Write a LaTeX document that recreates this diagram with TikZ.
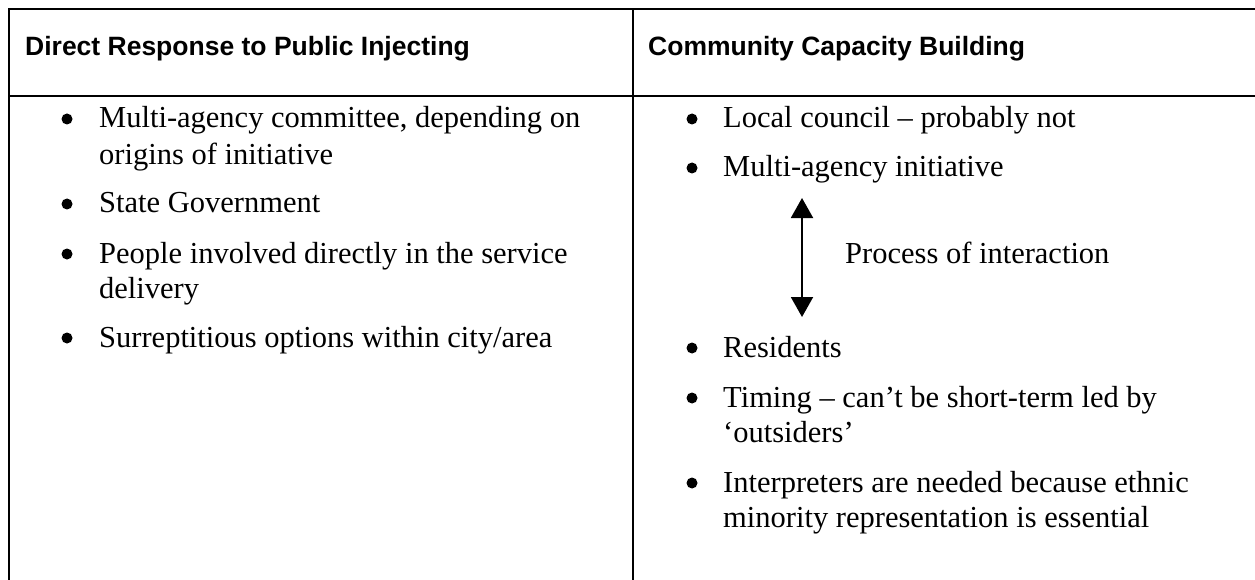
\documentclass[tikz,border=0pt]{standalone}
\usepackage{fontspec}
\setmainfont{Liberation Serif}
\newfontfamily\hdrfont{Liberation Sans}
\usetikzlibrary{arrows.meta}
\tikzset{
  rule/.style={line width=2pt, black},
  hdr/.style={anchor=base west, inner sep=0pt, font=\hdrfont\bfseries\fontsize{26.5}{30}\selectfont},
  body/.style={anchor=base west, inner sep=0pt, font=\fontsize{30.5}{35.5}\selectfont},
  bul/.style={circle, fill=black, inner sep=0pt, minimum size=11pt},
  dblarrow/.style={line width=2pt, {Triangle[width=22pt,length=20pt]}-{Triangle[width=22pt,length=20pt]}}
}
\begin{document}
\begin{tikzpicture}[x=1pt,y=-1pt]
\path[use as bounding box, fill=white] (0,0) rectangle (1255,580);
% table rules
\draw[rule] (9,580) -- (9,9) -- (1256,9);
\draw[rule] (9,96) -- (1256,96);
\draw[rule] (633,9) -- (633,580);
% headers
\node[hdr] (h1) at (25,56) {Direct Response to Public Injecting};
\node[hdr] (h2) at (648,56) {Community Capacity Building};
% left column
\node[bul] (lb1) at (67,119) {};
\node[body] (l1a) at (99,128) {Multi-agency committee, depending on};
\node[body] (l1b) at (99,165) {origins of initiative};
\node[bul] (lb2) at (67,204) {};
\node[body] (l2) at (99,213) {State Government};
\node[bul] (lb3) at (67,254) {};
\node[body] (l3a) at (99,263) {People involved directly in the service};
\node[body] (l3b) at (99,298) {delivery};
\node[bul] (lb4) at (67,338) {};
\node[body] (l4) at (99,347) {Surreptitious options within city/area};
% right column
\node[bul] (rb1) at (692,119) {};
\node[body] (r1) at (723,128) {Local council -- probably not};
\node[bul] (rb2) at (692,168) {};
\node[body] (r2) at (723,177) {Multi-agency initiative};
\coordinate (atop) at (802,198);
\coordinate (abot) at (802,317);
\draw[dblarrow] (atop) -- (abot);
\node[body] (proc) at (845,263) {Process of interaction};
\node[bul] (rb3) at (692,348) {};
\node[body] (r3) at (723,357) {Residents};
\node[bul] (rb4) at (692,398) {};
\node[body] (r4a) at (723,407) {Timing -- can’t be short-term led by};
\node[body] (r4b) at (723,442) {‘outsiders’};
\node[bul] (rb5) at (692,483) {};
\node[body] (r5a) at (723,492) {Interpreters are needed because ethnic};
\node[body] (r5b) at (723,527) {minority representation is essential};
\end{tikzpicture}
\end{document}
